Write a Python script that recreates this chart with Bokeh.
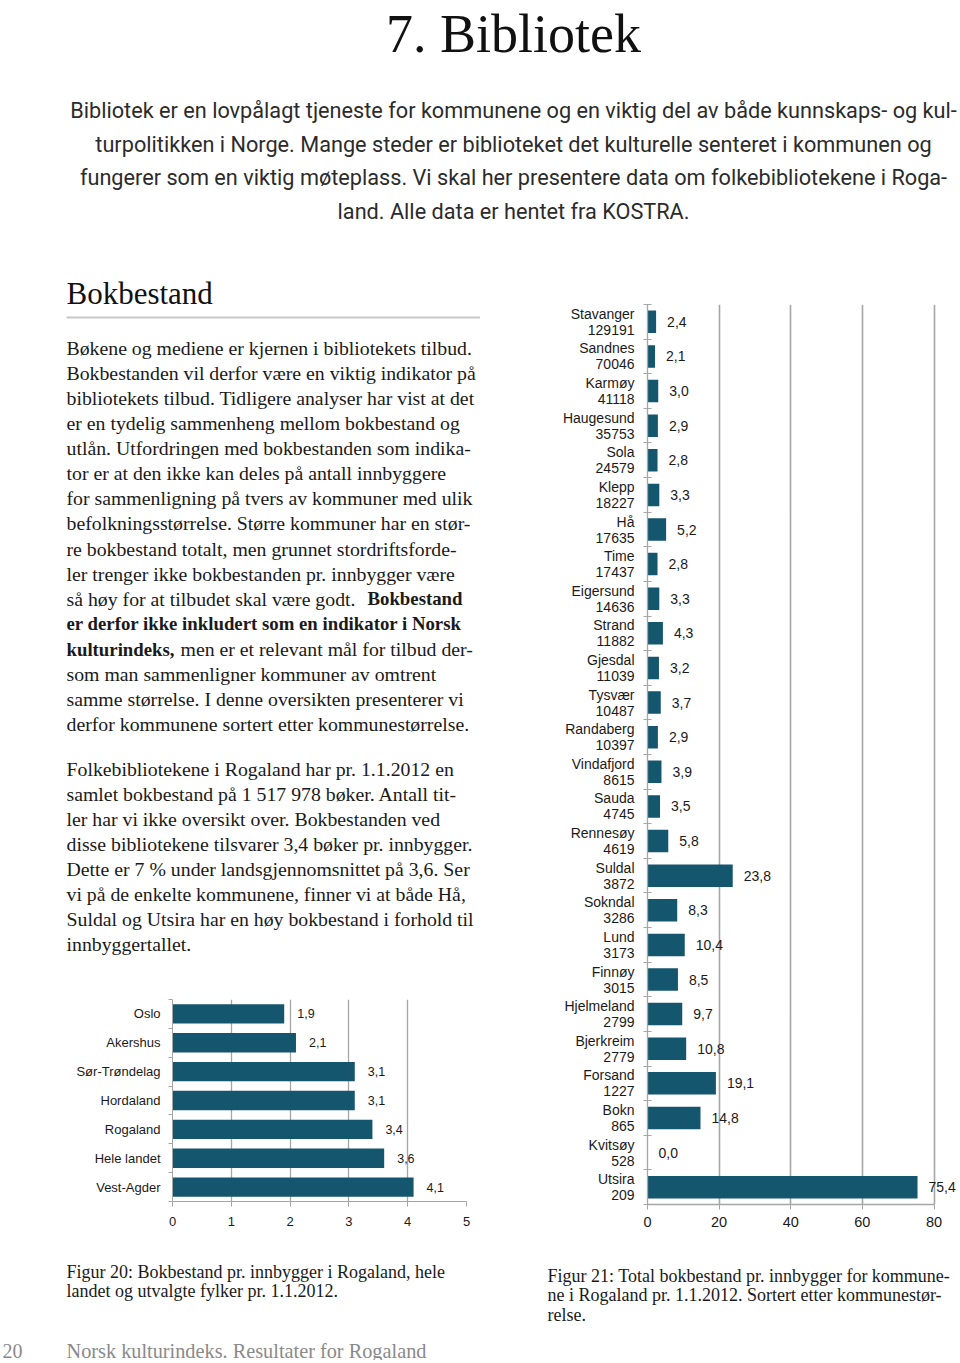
from bokeh.plotting import figure
from bokeh.models import Range1d, Label, FixedTicker, BoxAnnotation, ColumnDataSource
from bokeh.layouts import column, row
from bokeh.embed import file_html
from bokeh.resources import INLINE
from bokeh.core.properties import value

# ---------------- data ----------------
fylker = ["Oslo", "Akershus", "Sør-Trøndelag", "Hordaland", "Rogaland", "Hele landet", "Vest-Agder"]
fylker_verdi = [1.9, 2.1, 3.1, 3.1, 3.4, 3.6, 4.1]
fig20_ticks = [0, 1, 2, 3, 4, 5]

kommuner = ["Stavanger", "Sandnes", "Karmøy", "Haugesund", "Sola", "Klepp", "Hå", "Time",
            "Eigersund", "Strand", "Gjesdal", "Tysvær", "Randaberg", "Vindafjord", "Sauda",
            "Rennesøy", "Suldal", "Sokndal", "Lund", "Finnøy", "Hjelmeland", "Bjerkreim",
            "Forsand", "Bokn", "Kvitsøy", "Utsira"]
innbyggere = [129191, 70046, 41118, 35753, 24579, 18227, 17635, 17437, 14636, 11882, 11039,
              10487, 10397, 8615, 4745, 4619, 3872, 3286, 3173, 3015, 2799, 2779, 1227, 865, 528, 209]
kommune_verdi = [2.4, 2.1, 3.0, 2.9, 2.8, 3.3, 5.2, 2.8, 3.3, 4.3, 3.2, 3.7, 2.9, 3.9, 3.5,
                 5.8, 23.8, 8.3, 10.4, 8.5, 9.7, 10.8, 19.1, 14.8, 0.0, 75.4]
fig21_ticks = [0, 20, 40, 60, 80]

tittel = "7. Bibliotek"
ingress = [
    "Bibliotek er en lovpålagt tjeneste for kommunene og en viktig del av både kunnskaps- og kul-",
    "turpolitikken i Norge. Mange steder er biblioteket det kulturelle senteret i kommunen og",
    "fungerer som en viktig møteplass. Vi skal her presentere data om folkebibliotekene i Roga-",
    "land. Alle data er hentet fra KOSTRA.",
]
overskrift = "Bokbestand"
avsnitt1 = [
    [("Bøkene og mediene er kjernen i bibliotekets tilbud.", "normal", 0)],
    [("Bokbestanden vil derfor være en viktig indikator på", "normal", 0)],
    [("bibliotekets tilbud. Tidligere analyser har vist at det", "normal", 0)],
    [("er en tydelig sammenheng mellom bokbestand og", "normal", 0)],
    [("utlån. Utfordringen med bokbestanden som indika-", "normal", 0)],
    [("tor er at den ikke kan deles på antall innbyggere", "normal", 0)],
    [("for sammenligning på tvers av kommuner med ulik", "normal", 0)],
    [("befolkningsstørrelse. Større kommuner har en stør-", "normal", 0)],
    [("re bokbestand totalt, men grunnet stordriftsforde-", "normal", 0)],
    [("ler trenger ikke bokbestanden pr. innbygger være", "normal", 0)],
    [("så høy for at tilbudet skal være godt.", "normal", 0), ("Bokbestand", "bold", 301)],
    [("er derfor ikke inkludert som en indikator i Norsk", "bold", 0)],
    [("kulturindeks,", "bold", 0), ("men er et relevant mål for tilbud der-", "normal", 114)],
    [("som man sammenligner kommuner av omtrent", "normal", 0)],
    [("samme størrelse.  I denne oversikten presenterer vi", "normal", 0)],
    [("derfor kommunene sortert etter kommunestørrelse.", "normal", 0)],
]
avsnitt2 = [
    "Folkebibliotekene i Rogaland har pr. 1.1.2012 en",
    "samlet bokbestand på 1 517 978 bøker. Antall tit-",
    "ler har vi ikke oversikt over. Bokbestanden ved",
    "disse bibliotekene tilsvarer 3,4 bøker pr. innbygger.",
    "Dette er 7 % under landsgjennomsnittet på 3,6. Ser",
    "vi på de enkelte kommunene, finner vi at både Hå,",
    "Suldal og Utsira har en høy bokbestand i forhold til",
    "innbyggertallet.",
]
figur20_tekst = ["Figur 20: Bokbestand pr. innbygger i Rogaland, hele",
                 "landet og utvalgte fylker pr. 1.1.2012."]
figur21_tekst = ["Figur 21: Total bokbestand pr. innbygger for kommune-",
                 "ne i Rogaland pr. 1.1.2012. Sortert etter kommunestør-",
                 "relse."]
sidenummer = "20"
bunntekst = "Norsk kulturindeks. Resultater for Rogaland"

# ---------------- style ----------------
BAR = "#14566e"
GRAY = "#a6a6a6"
TXT = "#1a1a1a"
SERIF = "Liberation Serif"
SANS = "Liberation Sans"
BODY = 19.8
BODY_BOLD = 18.8


def no_align(p):
    try:
        p.frame_align = False
    except Exception:
        pass


def page_fig(w, h):
    p = figure(width=w, height=h, x_range=Range1d(0, w), y_range=Range1d(h, 0),
               x_axis_type=None, y_axis_type=None, output_backend="svg",
               toolbar_location=None, min_border=0)
    p.outline_line_color = None
    no_align(p)
    return p


def txt(p, x, y, s, size, font=SERIF, style="normal", color=TXT, align="left", baseline="middle"):
    p.add_layout(Label(x=x, y=y, text=s, text_font=font, text_font_size=f"{size}px",
                       text_font_style=style, text_color=color, text_align=align,
                       text_baseline=baseline))


def fmt(v):
    return f"{v:.1f}".replace(".", ",")


# ---------------- top (page y 0..262) ----------------
top = page_fig(960, 262)
txt(top, 513, 33, tittel, 54, align="center", color="#111111")
for i, line in enumerate(ingress):
    txt(top, 513, 110 + i * 33.7, line, 21.7, font="Roboto", align="center", color="#2b2b2b")

# ---------------- left text (page y 262..990) ----------------
Y0 = 262
left = page_fig(480, 728)
txt(left, 66, 293 - Y0, overskrift, 31, color="#111111")
left.add_layout(BoxAnnotation(left=66, right=483, top=316 - Y0, bottom=318 - Y0,
                              fill_color="#c8c8c8", fill_alpha=1, line_color=None))
for i, parts in enumerate(avsnitt1):
    for s, st, dx in parts:
        txt(left, 66 + dx, 347 - Y0 + i * 25.13, s, BODY_BOLD if st == "bold" else BODY, style=st)
for i, line in enumerate(avsnitt2):
    txt(left, 66, 768 - Y0 + i * 25.0, line, BODY)

# ---------------- figure 20 (page y 990..1245) ----------------
n1 = len(fylker)
y1 = list(range(n1))
p20 = figure(width=480, height=255, x_range=Range1d(fig20_ticks[0], fig20_ticks[-1]),
             y_range=Range1d(n1 - 0.5, -0.5), output_backend="svg", toolbar_location=None,
             min_border_left=172, min_border_right=14, min_border_top=9, min_border_bottom=44)
no_align(p20)
p20.outline_line_color = None
src20 = ColumnDataSource(dict(y=y1, v=fylker_verdi, lab=[fmt(v) for v in fylker_verdi]))
p20.hbar(y="y", right="v", left=0, height=0.67, source=src20, fill_color=BAR, line_color=None)
p20.text(x="v", y="y", text="lab", source=src20, x_offset=13, text_baseline="middle",
         text_font=value(SANS), text_font_size="12.5px", text_color=TXT)
ya = p20.yaxis[0]
ya.ticker = FixedTicker(ticks=y1, minor_ticks=[i - 0.5 for i in range(n1 + 1)])
ya.major_label_overrides = {i: f for i, f in enumerate(fylker)}
ya.major_tick_line_color = None
ya.major_tick_out = 0
ya.major_tick_in = 0
ya.minor_tick_out = 4
ya.minor_tick_in = 0
ya.minor_tick_line_color = GRAY
ya.axis_line_color = GRAY
ya.major_label_standoff = 8
ya.major_label_text_font = SANS
ya.major_label_text_font_size = "13px"
ya.major_label_text_color = TXT
xa = p20.xaxis[0]
xa.ticker = FixedTicker(ticks=fig20_ticks)
xa.minor_tick_line_color = None
xa.major_tick_out = 5
xa.major_tick_in = 0
xa.major_tick_line_color = GRAY
xa.axis_line_color = GRAY
xa.major_label_standoff = 10
xa.major_label_text_font = SANS
xa.major_label_text_font_size = "13px"
xa.major_label_text_color = TXT
p20.xgrid.ticker = FixedTicker(ticks=fig20_ticks)
p20.xgrid.grid_line_color = GRAY
p20.xgrid.grid_line_width = 1.3
p20.ygrid.visible = False

# ---------------- figure 21 (page x 480..960, y 262..1245) ----------------
n2 = len(kommuner)
y2 = list(range(n2))
xmax = fig21_ticks[-1] * 313 / 286.5
p21 = figure(width=480, height=983, x_range=Range1d(0, xmax),
             y_range=Range1d(n2 - 0.5, -0.5), output_backend="svg", toolbar_location=None,
             min_border_left=167, min_border_right=0, min_border_top=42, min_border_bottom=41)
no_align(p21)
p21.outline_line_color = None
src21 = ColumnDataSource(dict(y=y2, v=kommune_verdi, lab=[fmt(v) for v in kommune_verdi]))
p21.hbar(y="y", right="v", left=0, height=0.65, source=src21, fill_color=BAR, line_color=None)
p21.text(x="v", y="y", text="lab", source=src21, x_offset=11, text_baseline="middle",
         text_font=value(SANS), text_font_size="14px", text_color=TXT)
ya = p21.yaxis[0]
ya.ticker = FixedTicker(ticks=y2, minor_ticks=[i - 0.5 for i in range(n2 + 1)])
ya.major_label_overrides = {i: f"{k}\n{p}" for i, (k, p) in enumerate(zip(kommuner, innbyggere))}
ya.major_tick_line_color = None
ya.major_tick_out = 0
ya.major_tick_in = 0
ya.minor_tick_out = 4
ya.minor_tick_in = 4
ya.minor_tick_line_color = GRAY
ya.axis_line_color = GRAY
ya.axis_line_width = 1.3
ya.major_label_standoff = 9
ya.major_label_text_font = SANS
ya.major_label_text_font_size = "14px"
ya.major_label_text_color = TXT
ya.major_label_text_line_height = 1.0
xa = p21.xaxis[0]
xa.ticker = FixedTicker(ticks=fig21_ticks)
xa.bounds = (fig21_ticks[0], fig21_ticks[-1])
xa.minor_tick_line_color = None
xa.major_tick_out = 5
xa.major_tick_in = 0
xa.major_tick_line_color = GRAY
xa.axis_line_color = GRAY
xa.axis_line_width = 1.3
xa.major_label_standoff = 7
xa.major_label_text_font = SANS
xa.major_label_text_font_size = "14.5px"
xa.major_label_text_color = TXT
p21.xgrid.ticker = FixedTicker(ticks=fig21_ticks[1:])
p21.xgrid.grid_line_color = GRAY
p21.xgrid.grid_line_width = 1.6
p21.ygrid.visible = False

# ---------------- bottom (page y 1245..1360) ----------------
Y2 = 1245
bot = page_fig(960, 115)
for i, line in enumerate(figur20_tekst):
    txt(bot, 66, 1271 - Y2 + i * 19.5, line, 18)
for i, line in enumerate(figur21_tekst):
    txt(bot, 547, 1275 - Y2 + i * 19.5, line, 18)
txt(bot, 2, 1350 - Y2, sidenummer, 20, color="#8a8a8a")
txt(bot, 66, 1350 - Y2, bunntekst, 20.3, color="#8a8a8a")

layout = column(top, row(column(left, p20), p21), bot)
open("out.html", "w").write(file_html(layout, INLINE))
